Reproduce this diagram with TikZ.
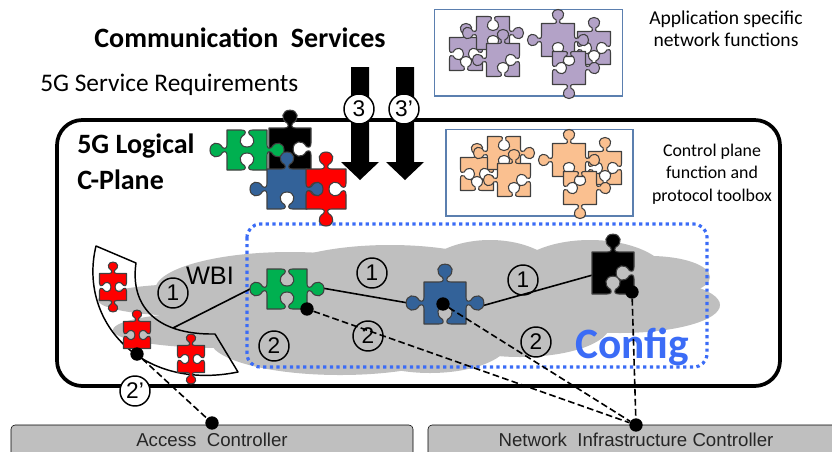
\documentclass[tikz,border=0pt]{standalone}
\usepackage{fontspec}
\setmainfont{Carlito}
\newfontfamily\arialfont{Liberation Sans}
\usetikzlibrary{positioning}
\definecolor{cloudgrey}{HTML}{BFBFBF}
\definecolor{cfgblue}{HTML}{3B6CF6}
\definecolor{boxblue}{HTML}{5B7FAF}
\definecolor{pgreen}{HTML}{00B050}
\definecolor{pblue}{HTML}{336299}
\definecolor{ppurple}{HTML}{B3A2C7}
\definecolor{porange}{HTML}{FAC090}
\tikzset{
  numcircle/.style={circle,draw=black,line width=1.1pt,minimum size=22.5pt,inner sep=0pt,font=\arialfont\fontsize{17}{17}\selectfont},
  refdot/.style={circle,fill=black,minimum size=10pt,inner sep=0pt},
  ctrlbar/.style={fill=cloudgrey,rounded corners=3pt},
  ctrltext/.style={font=\arialfont\fontsize{14}{14}\selectfont,text=black!85},
  dashline/.style={line width=1.2pt,dash pattern=on 5pt off 2.5pt},
  solidline/.style={line width=1.2pt},
  sidetext/.style={align=center,font=\fontsize{13.4}{17}\selectfont},
  boxframe/.style={draw=boxblue,line width=.8pt}
}
\newcommand\X[2]{\cx+(#1)*\dx+(#2)*\s*\dy}
\newcommand\Y[2]{\cy+(#1)*\dy-(#2)*\s*\dx}
\newcommand\curveto[6]{.. controls ({\X{#1}{#2}},{\Y{#1}{#2}}) and ({\X{#3}{#4}},{\Y{#3}{#4}}) .. ({\X{#5}{#6}},{\Y{#5}{#6}})}
% x, y, half size, colour, then top/right/bottom/left: 1 knob, -1 socket, 0 flat
\newcommand\piece[8]{
  \begin{scope}[shift={(#1,#2)},scale=#3]
    \draw[fill=#4,draw=black!75,line width=.8pt,line join=round] (-1,-1)
      \foreach \cx/\cy/\dx/\dy/\s in {-1/-1/1/0/#5,1/-1/0/1/#6,1/1/-1/0/#7,-1/1/0/-1/#8} {
        -- ({\X{.72}{0}},{\Y{.72}{0}})
        \curveto{.92}{0}{.95}{.1}{.88}{.22}
        \curveto{.52}{.42}{.62}{.85}{1}{.85}
        \curveto{1.38}{.85}{1.48}{.42}{1.12}{.22}
        \curveto{1.05}{.1}{1.08}{0}{1.28}{0}
        -- ({\X{2}{0}},{\Y{2}{0}})
      } -- cycle;
  \end{scope}
}
% the six loose pieces of a toolbox
\newcommand\toolbox[1]{
  \piece{466}{54}{16.5}{#1}{1}{-1}{-1}{-1}
  \piece{493}{33}{16.5}{#1}{-1}{1}{-1}{1}
  \piece{503}{60}{16.5}{#1}{1}{-1}{-1}{1}
  \piece{594}{48}{16.5}{#1}{1}{-1}{-1}{-1}
  \piece{558}{40}{16.5}{#1}{1}{1}{-1}{1}
  \piece{569}{68}{16.5}{#1}{-1}{1}{1}{-1}
}
\begin{document}
\begin{tikzpicture}[x=.75pt,y=-.75pt]
\useasboundingbox (0,0) rectangle (832,451);
% grey cloud
\foreach \ex/\ey/\erx/\ery in {290/290/135/38,190/300/92/16,220/330/107/18,340/340/130/35,390/285/130/40,490/285/75/45,590/280/80/40,650/277/60/21,620/305/100/28,520/325/90/32,430/340/80/33}
  \fill[cloudgrey] (\ex,\ey) ellipse [x radius=\erx,y radius=\ery];
% frames
\draw[line width=2.8pt,rounded corners=19pt] (57,120) rectangle (780,386);
\draw[cfgblue,line width=2.4pt,dash pattern=on 2.4pt off 2.6pt,rounded corners=10pt] (247,224) rectangle (707,367);
\node[text=cfgblue,font=\bfseries\fontsize{32.5}{32.5}\selectfont] (config) at (632,347) {Config};
% access sector
\draw[line width=1.1pt,line join=round] (96,246) .. controls (78,320) and (140,392) .. (238,372) -- (215,334) .. controls (155,335) and (130,305) .. (136,263) -- cycle;
\coordinate (sector) at (173,328);
% titles
\node[font=\bfseries\fontsize{21}{21}\selectfont] (title) at (240,38) {Communication~ Services};
\node[anchor=west,font=\fontsize{19}{19}\selectfont,inner sep=0pt] (reqs) at (40,85) {5G Service Requirements};
\node[anchor=north west,align=left,font=\bfseries\fontsize{21}{27}\selectfont,inner sep=0pt] (cplane) at (77,134) {5G Logical\\C-Plane};
\node[align=center,font=\fontsize{14.7}{16.5}\selectfont] (apptext) at (726,29) {Application specific\\network functions};
\node[sidetext] (ctrltext) at (712,174) {Control plane\\function and\\protocol toolbox};
\node[font=\arialfont\fontsize{19}{19}\selectfont] (wbi) at (210,276) {WBI};
% toolboxes
\draw[boxframe] (434.7,9.3) rectangle (622.7,96);
\draw[boxframe] (446,129.5) rectangle (633,216);
\toolbox{ppurple}
\begin{scope}[shift={(11,120)}]
\toolbox{porange}
\end{scope}
% big arrows
\foreach \ax in {360,405}
  \fill[black] (\ax-9,67) -- (\ax+9,67) -- (\ax+9,162) -- (\ax+19,162) -- (\ax,180) -- (\ax-19,162) -- (\ax-9,162) -- cycle;
\node[numcircle,fill=white] (three) at (359,109) {3};
\node[numcircle,fill=white] (threep) at (404,109) {3’};
% top cluster
\piece{290}{149}{21}{black}{1}{-1}{0}{0}
\piece{247}{150}{20}{pgreen}{-1}{1}{-1}{1}
\piece{287}{189}{20}{pblue}{1}{1}{-1}{1}
\piece{326}{189}{20}{red}{1}{-1}{1}{-1}
% pieces in the network
\coordinate (gleft) at (250,289);
\coordinate (gright) at (322,288);
\coordinate (bleft) at (414,304);
\coordinate (bright) at (478,307);
\coordinate (kleft) at (607,271);
\draw[solidline] (sector) -- (gleft);
\draw[solidline] (gright) -- (bleft);
\draw[solidline] (bright) -- (kleft);
\piece{113}{287}{13.5}{red}{1}{-1}{1}{-1}
\piece{137}{335}{13.5}{red}{1}{-1}{1}{-1}
\piece{191}{359}{13.5}{red}{1}{-1}{1}{-1}
\piece{287}{289}{20}{pgreen}{-1}{1}{-1}{1}
\piece{445}{303}{21}{pblue}{1}{1}{-1}{1}
\piece{613}{273}{21}{black}{1}{-1}{-1}{0}
% controllers
\draw[ctrlbar] (11,425) rectangle (413,460);
\draw[ctrlbar] (428,425) rectangle (840,460);
\node[ctrltext] (accesstext) at (212,440) {Access~ Controller};
\node[ctrltext] (nettext) at (636,440) {Network~ Infrastructure Controller};
\node[refdot] (dsector) at (137,354) {};
\node[refdot] (dgreen) at (307,309) {};
\node[refdot] (dblue) at (443,304) {};
\node[refdot] (dblack) at (632,292) {};
\node[refdot] (daccess) at (212,423) {};
\node[refdot] (dnet) at (636,425) {};
\draw[dashline] (dsector) -- (daccess);
\draw[dashline] (dgreen) -- (dnet);
\draw[dashline] (dblue) -- (dnet);
\draw[dashline] (dblack) -- (dnet);
% numbers
\node[numcircle] (wa) at (173,293) {1};
\node[numcircle] (wb) at (372,273) {1};
\node[numcircle] (wc) at (523,280) {1};
\node[numcircle] (ra) at (274,346) {2};
\node[numcircle] (rb) at (368,336) {2};
\node[numcircle] (rc) at (536,342) {2};
\node[numcircle,fill=white] (rp) at (135,391) {2’};
\end{tikzpicture}
\end{document}
